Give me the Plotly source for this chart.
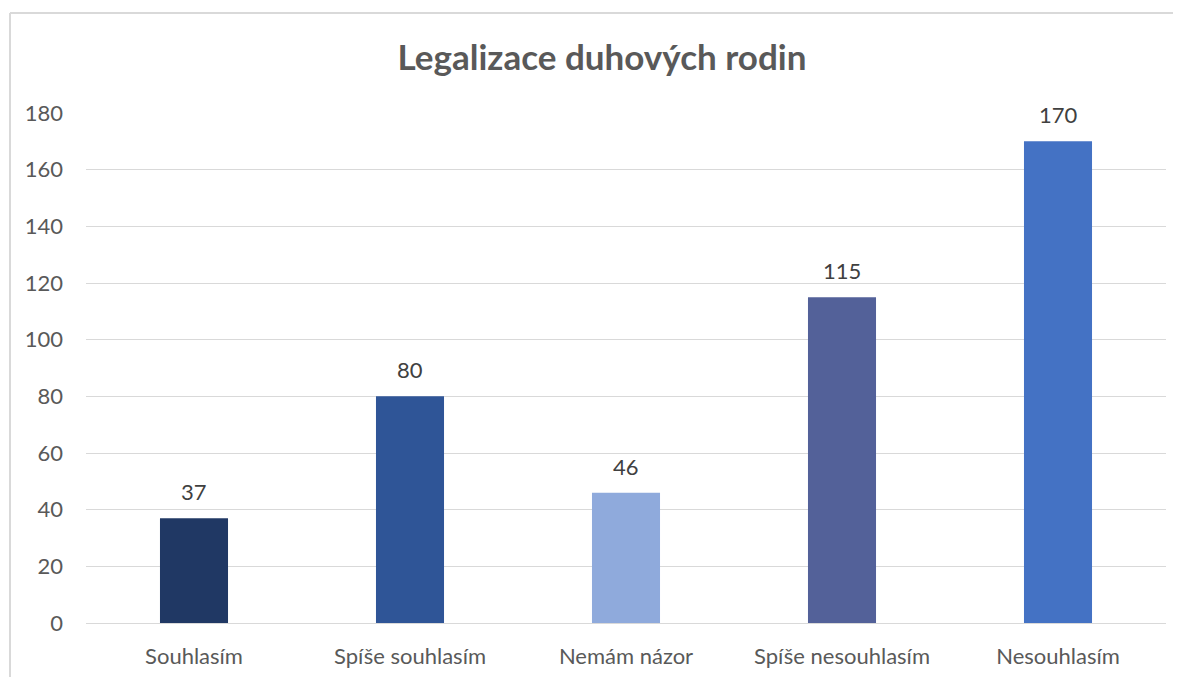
import plotly.graph_objects as go

categories = ["Souhlasím", "Spíše souhlasím", "Nemám názor", "Spíše nesouhlasím", "Nesouhlasím"]
values = [37, 80, 46, 115, 170]
colors = ["#203864", "#2F5597", "#8FAADC", "#536199", "#4472C4"]
y_ticks = [0, 20, 40, 60, 80, 100, 120, 140, 160, 180]

FONT = "Lato"
W, H = 1173, 669  # page body adds an 8px offset
L, R, T, B = 78, 15, 105, 54
PW = W - L - R
PH = H - T - B

fig = go.Figure()
fig.add_trace(go.Bar(
    x=categories, y=values, marker=dict(color=colors, line=dict(width=0)),
    hoverinfo="x+y",
))

for c, v in zip(categories, values):
    fig.add_annotation(x=c, y=v, text=str(v), showarrow=False, yanchor="bottom",
                       yshift=11, font=dict(family=FONT, size=22, color="#404040"))

fig.update_layout(
    width=W, height=H,
    margin=dict(l=L, r=R, t=T, b=B, autoexpand=False),
    paper_bgcolor="white", plot_bgcolor="white",
    bargap=0.685,
    showlegend=False,
    title=dict(text="<b>Legalizace duhových rodin</b>", x=594 / W, xanchor="center",
               xref="container",
               y=1 - 50 / H, yanchor="middle",
               font=dict(family=FONT, size=35, color="#595959")),
    font=dict(family=FONT, size=22, color="#595959"),
    xaxis=dict(showgrid=False, showline=True, linecolor="#D9D9D9", linewidth=1,
               ticks="", ticklabelstandoff=14, automargin=False,
               tickfont=dict(family=FONT, size=22, color="#595959")),
    yaxis=dict(range=[0, 180], tickvals=y_ticks, showgrid=True, gridcolor="#D9D9D9",
               gridwidth=1, zeroline=False, showline=False, ticks="",
               ticklabelstandoff=22, automargin=False,
               tickfont=dict(family=FONT, size=22, color="#595959")),
    shapes=[
        dict(type="line", xref="paper", yref="paper",
             x0=(2 - L) / PW, x1=1.05, y0=1 + (T - 5) / PH, y1=1 + (T - 5) / PH,
             line=dict(color="#D9D9D9", width=2)),
        dict(type="line", xref="paper", yref="paper",
             x0=(2 - L) / PW, x1=(2 - L) / PW, y0=-0.2, y1=1 + (T - 5) / PH,
             line=dict(color="#D9D9D9", width=2)),
    ],
)

fig.write_html("out.html")
